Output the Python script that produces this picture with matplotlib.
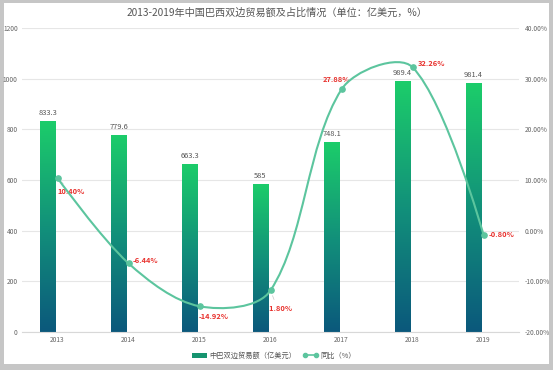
import numpy as np
import matplotlib
matplotlib.use('Agg')
import matplotlib.pyplot as plt
from matplotlib.path import Path
from matplotlib.patches import PathPatch, Rectangle
from matplotlib.colors import LinearSegmentedColormap
from matplotlib.lines import Line2D

# ---------------- data ----------------
years = ['2013', '2014', '2015', '2016', '2017', '2018', '2019']
trade = [833.3, 779.6, 663.3, 585, 748.1, 989.4, 981.4]
trade_labels = ['833.3', '779.6', '663.3', '585', '748.1', '989.4', '981.4']
yoy = [10.40, -6.44, -14.92, -11.80, 27.88, 32.26, -0.80]
yoy_labels = ['10.40%', '-6.44%', '-14.92%', '-11.80%', '27.88%', '32.26%', '-0.80%']
left_ticks = [0, 200, 400, 600, 800, 1000, 1200]
right_ticks = [-20, -10, 0, 10, 20, 30, 40]
right_tick_labels = ['-20.00%', '-10.00%', '0.00%', '10.00%', '20.00%', '30.00%', '40.00%']
title = '2013-2019年中国巴西双边贸易额及占比情况（单位：亿美元，%）'
legend_labels = ['中巴双边贸易额（亿美元）', '同比（%）']

plt.rcParams['font.family'] = ['Noto Sans CJK SC', 'DejaVu Sans']

W, H = 553, 370
fig = plt.figure(figsize=(W / 100, H / 100), dpi=100)
fig.patch.set_facecolor('#c6c6c6')
fig.add_artist(Rectangle((4 / W, 6 / H), 545 / W, 361 / H, transform=fig.transFigure,
                         facecolor='white', edgecolor='none', zorder=-10))

x0, x1, ytop, ybot = 22, 519, 28, 332
ax = fig.add_axes([x0 / W, 1 - ybot / H, (x1 - x0) / W, (ybot - ytop) / H])
ax.patch.set_alpha(0)

n = len(years)
xs = np.arange(n)
bar_off = -0.14
bar_w = 0.225

cmap = LinearSegmentedColormap.from_list('g', ['#0b587c', '#12917a', '#1ccd6a'])
grad = np.linspace(0, 1, 256).reshape(-1, 1)
bars = ax.bar(xs + bar_off, trade, bar_w, color='none', edgecolor='none', zorder=2)
for b in bars:
    bx, bw, bh = b.get_x(), b.get_width(), b.get_height()
    im = ax.imshow(grad, extent=[bx, bx + bw, 0, bh], origin='lower', aspect='auto',
                   cmap=cmap, zorder=2, interpolation='bicubic')
    im.set_clip_path(b)

for i, (v, lab) in enumerate(zip(trade, trade_labels)):
    ax.annotate(lab, (i + bar_off, v), xytext=(0, 4), textcoords='offset pixels',
                ha='center', va='bottom', fontsize=5.4, color='#555555', zorder=3)

ax.set_xlim(-0.5, n - 0.5)
ax.set_ylim(0, 1200)
ax.set_yticks(left_ticks)
ax.set_yticklabels([str(t) for t in left_ticks])
ax.set_xticks(xs)
ax.set_xticklabels(years)
ax.yaxis.grid(True, color='#e6e6e6', linewidth=0.8, zorder=0)
ax.set_axisbelow(True)
for s in ['top', 'right', 'left']:
    ax.spines[s].set_visible(False)
ax.spines['bottom'].set_color('#d8d8d8')
ax.spines['bottom'].set_linewidth(0.8)
ax.tick_params(axis='both', length=0, labelsize=4.8, colors='#666666')
ax.tick_params(axis='y', pad=3)
ax.tick_params(axis='x', pad=3)

ax2 = ax.twinx()
ax2.set_position(ax.get_position())
ax2.set_ylim(-20, 40)
ax2.set_yticks(right_ticks)
ax2.set_yticklabels(right_tick_labels)
for s in ax2.spines.values():
    s.set_visible(False)
ax2.tick_params(axis='y', length=0, labelsize=4.8, colors='#666666', pad=4)

# smooth line (echarts-like bezier smoothing)
line_color = '#5cc59e'
sx = (x1 - x0) / n
sy = (ybot - ytop) / 60.0
P = np.column_stack([xs * sx, np.array(yoy) * sy]).astype(float)
smooth = 0.33
cp_in = [P[0].copy()]
cp_out = [P[0].copy()]
for i in range(1, n - 1):
    v = (P[i + 1] - P[i - 1]) * smooth
    d0 = np.linalg.norm(P[i] - P[i - 1])
    d1 = np.linalg.norm(P[i + 1] - P[i])
    cp_in.append(P[i] - v * d0 / (d0 + d1))
    cp_out.append(P[i] + v * d1 / (d0 + d1))
cp_in.append(P[-1].copy())
cp_out.append(P[-1].copy())
verts = [P[0]]
codes = [Path.MOVETO]
for i in range(n - 1):
    verts += [cp_out[i], cp_in[i + 1], P[i + 1]]
    codes += [Path.CURVE4] * 3
verts = np.array(verts) / np.array([sx, sy])
ax2.add_patch(PathPatch(Path(verts, codes), facecolor='none', edgecolor=line_color,
                        linewidth=1.5, zorder=3))
ax2.plot(xs, yoy, 'o', color=line_color, markersize=3.8, zorder=4)

# percentage labels (drawn on ax so bars can cover them)
offsets = [(14, -14), (17, 3), (14, -10), (7, -18), (-5, 10), (19, 4), (18, 0)]
for i, (v, lab, off) in enumerate(zip(yoy, yoy_labels, offsets)):
    ax.annotate(lab, (i, v), xycoords=ax2.transData, xytext=off, textcoords='offset pixels',
                ha='center', va='center', fontsize=5.4, color='#e8302c', fontweight='bold',
                zorder=1.5,
                arrowprops=dict(arrowstyle='-', color='#c8c8c8', lw=0.5, shrinkA=2, shrinkB=4))

# title
fig.text(276.5 / W, 1 - 13 / H, title, ha='center', va='center', fontsize=7.3, color='#555555')

# legend
h_bar = Rectangle((0, 0), 1, 1, facecolor='#16946f', edgecolor='none')
h_line = Line2D([0], [0], color=line_color, lw=1.2, marker='o', markersize=3)
leg = fig.legend([h_bar, h_line], legend_labels, loc='center', bbox_to_anchor=(274 / W, 1 - 356 / H),
                 ncol=2, frameon=False, fontsize=5.2, handlelength=2.0, handleheight=0.7,
                 numpoints=2, columnspacing=1.0, handletextpad=0.3, labelcolor='#555555')

fig.savefig('out.png', dpi=100, facecolor=fig.get_facecolor())
